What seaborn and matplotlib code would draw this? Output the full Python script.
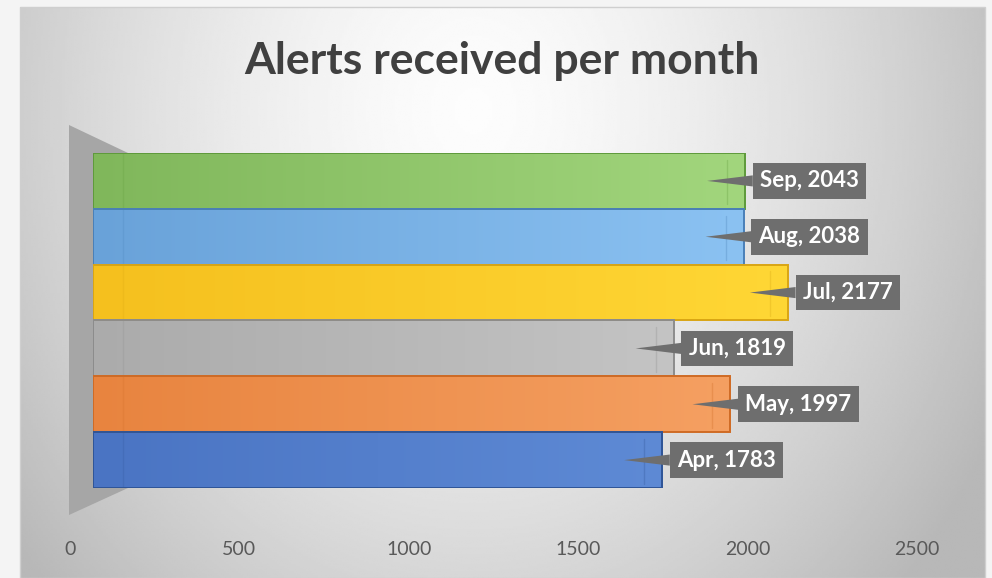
import numpy as np
import matplotlib
matplotlib.use("Agg")
import matplotlib.pyplot as plt
from matplotlib.patches import Polygon, Rectangle
from matplotlib.transforms import offset_copy
from matplotlib.colors import LinearSegmentedColormap
import seaborn as sns
import pandas as pd

# ---- data ----
months = ["Sep", "Aug", "Jul", "Jun", "May", "Apr"]
alerts = [2043, 2038, 2177, 1819, 1997, 1783]
x_ticks = [0, 500, 1000, 1500, 2000, 2500]
title = "Alerts received per month"

# ---- styles ----
light = ["#a2d67d", "#8bc2f2", "#ffd735", "#c4c4c4", "#f5a062", "#5e8ad5"]
dark = ["#80b75b", "#69a2d9", "#f5c01e", "#ababab", "#e8843f", "#4a74c3"]
edges = ["#5f9a3c", "#4a80b8", "#d9a514", "#8c8c8c", "#cf6b25", "#2f5597"]
label_bg = "#6e6e6e"

sns.set_theme(style="white")
plt.rcParams["font.family"] = ["Lato", "DejaVu Sans"]

W, H = 992, 578
fig = plt.figure(figsize=(W / 100, H / 100), dpi=100)
fig.patch.set_facecolor("#f4f4f4")

# background card with radial gradient (decoration)
bg = fig.add_axes([0, 0, 1, 1], zorder=0)
bg.axis("off")
cx0, cx1, cy0, cy1 = 20, 985, 7, 578
gx = np.linspace(0, 1, 400)
gy = np.linspace(0, 1, 300)
GX, GY = np.meshgrid(gx, gy)
r = np.sqrt(((GX - 0.47) / 0.5) ** 2 + ((GY - 0.18) / 1.0) ** 2)
v = np.clip(0.99 - 0.2 * r ** 1.5, 0.72, 1)
bg.imshow(v, cmap="gray", vmin=0, vmax=1, extent=(cx0, cx1, cy1, cy0),
          aspect="auto", interpolation="bilinear")
bg.add_patch(Rectangle((cx0, cy0), cx1 - cx0, cy1 - cy0, fill=False,
                       ec="#cfcfcf", lw=1))
# side wall of the 3D chart
bg.add_patch(Polygon([(69, 125), (128, 153), (128, 488), (69, 515)],
                     closed=True, fc="#a6a6a6", ec="none"))
bg.set_xlim(0, W)
bg.set_ylim(H, 0)

# ---- main bars ----
ax = fig.add_axes([93 / W, 1 - 488 / H, 798 / W, 335 / H], zorder=2)
ax.patch.set_alpha(0)
df = pd.DataFrame({"month": months, "alerts": alerts})
sns.barplot(data=df, x="alerts", y="month", hue="month", palette=dark,
            order=months, hue_order=months, orient="h", width=1.0,
            legend=False, ax=ax, saturation=1)

grad = np.linspace(0, 1, 256)[None, :]
for p in list(ax.patches):
    i = int(round(p.get_y() + p.get_height() / 2))
    cmap = LinearSegmentedColormap.from_list("g%d" % i, [dark[i], light[i]])
    x0, w, y0, h = p.get_x(), p.get_width(), p.get_y(), p.get_height()
    im = ax.imshow(grad, cmap=cmap, extent=(x0, x0 + w, y0 + h, y0),
                   aspect="auto", zorder=1.5, interpolation="bilinear")
    im.set_clip_path(p)
    p.set_facecolor("none")
    p.set_edgecolor(edges[i])
    p.set_linewidth(1.4)
    p.set_zorder(2)
    # faint back-face edges seen through the translucent 3D bar
    tr_in = offset_copy(ax.transData, fig=fig, x=-18, y=0, units="dots")
    ax.plot([x0 + w, x0 + w], [y0 + 0.12, y0 + h - 0.08], transform=tr_in,
            color=edges[i], alpha=0.3, lw=1.0, zorder=1.8)
    tr_left = offset_copy(ax.transData, fig=fig, x=30, y=0, units="dots")
    ax.plot([x0, x0], [y0, y0 + h], transform=tr_left,
            color=edges[i], alpha=0.22, lw=1.0, zorder=1.8)

ax.set_xlim(0, 2500)
ax.set_ylim(len(months) - 0.5, -0.5)
ax.axis("off")

# data labels with callouts
for i, (m, val) in enumerate(zip(months, alerts)):
    tr = offset_copy(ax.transData, fig=fig, x=-38, y=0, units="dots")
    ax.annotate(f"{m}, {val}", xy=(val, i), xycoords=tr,
                xytext=(53, 0), textcoords="offset pixels",
                ha="left", va="center", fontsize=16, fontweight="bold",
                color="white",
                bbox=dict(boxstyle="square,pad=0.33", fc=label_bg, ec="none"),
                arrowprops=dict(arrowstyle="wedge,tail_width=0.5,shrink_factor=0.5",
                                fc=label_bg, ec="none", shrinkA=0, shrinkB=0),
                annotation_clip=False, zorder=5)

# ---- floor axis with tick labels ----
fl = fig.add_axes([70 / W, 1 - 530 / H, 847 / W, 0.001], zorder=2)
fl.set_xlim(0, 2500)
fl.set_xticks(x_ticks)
fl.set_xticklabels([str(t) for t in x_ticks])
fl.tick_params(axis="x", length=0, pad=8, labelsize=14, labelcolor="#595959")
fl.set_yticks([])
for s in fl.spines.values():
    s.set_visible(False)
fl.patch.set_alpha(0)

fig.text(502 / W, 1 - 61 / H, title, ha="center", va="center",
         fontsize=32, fontweight="bold", color="#404040")

fig.savefig("out.png", dpi=100, facecolor=fig.get_facecolor())
